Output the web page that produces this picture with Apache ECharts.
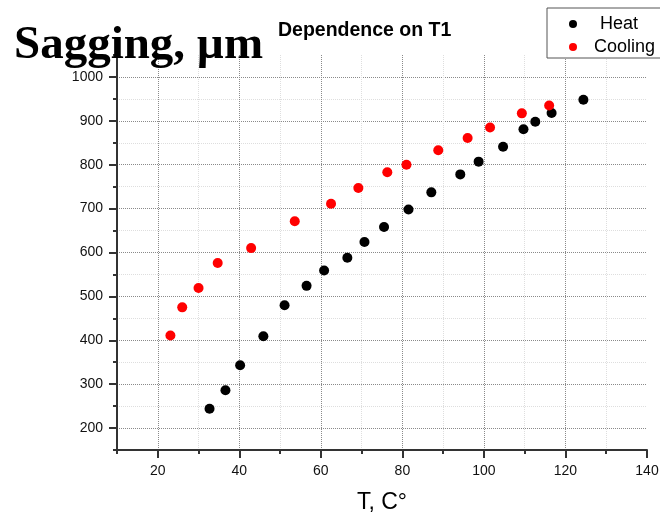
<!DOCTYPE html>
<html>
<head>
<meta charset="utf-8">
<script src="https://cdn.jsdelivr.net/npm/echarts@6/dist/echarts.min.js"></script>
<style>
  html, body { margin: 0; padding: 0; background: #fff; }
  #chart { width: 660px; height: 515px; }
</style>
</head>
<body>
<div id="chart"></div>
<script>
// T, C° / sagging, µm
const heatT = [32.7, 36.6, 40.2, 45.9, 51.1, 56.5, 60.8, 66.5, 70.7, 75.5, 81.5, 87.1, 94.2, 98.7, 104.7, 109.7, 112.6, 116.6, 124.4]
const heatSag = [244, 286, 343, 409, 480, 524, 559, 588, 624, 658, 698, 737, 778, 807, 841, 881, 898, 918, 948]
const coolT = [23.1, 26.0, 30.0, 34.7, 42.9, 53.6, 62.5, 69.2, 76.3, 81.0, 88.8, 96.0, 101.5, 109.3, 116.0]
const coolSag = [411, 475, 519, 576, 610, 671, 711, 747, 783, 800, 833, 861, 885, 917, 935]
const xTicks = [20, 40, 60, 80, 100, 120, 140]
const yTicks = [200, 300, 400, 500, 600, 700, 800, 900, 1000]

const chart = echarts.init(document.getElementById('chart'))

const zip = (xs, ys) => xs.map((x, i) => [x, ys[i]])

const gridDark = '#8a8a8a'
const gridLight = '#dedede'
const axisColor = '#333'
const labelStyle = { color: '#111', fontSize: 14, fontFamily: 'Liberation Sans' }

// alternate light / dark dotted grid lines, none on the far edge
const splitColors = (count) =>
  Array.from({ length: count }, (_, i) => (i === count - 1 ? 'transparent' : i % 2 ? gridDark : gridLight))

chart.setOption({
  animation: false,
  backgroundColor: '#fff',
  graphic: [
    {
      type: 'text', left: 14, top: 22, z: 100,
      style: { text: 'Sagging, µm', font: 'bold 47px "Liberation Serif"', fill: '#000' },
    },
    {
      type: 'text', left: 278, top: 21, z: 100,
      style: { text: 'Dependence on T1', font: 'bold 19.5px "Liberation Sans"', fill: '#000' },
    },
  ],
  legend: {
    orient: 'vertical',
    left: 547,
    top: 8,
    padding: [7, 20, 2, 22],
    itemWidth: 32,
    itemHeight: 8,
    itemGap: 5,
    icon: 'circle',
    backgroundColor: '#fff',
    borderColor: '#555',
    borderWidth: 1,
    textStyle: { fontSize: 18, lineHeight: 18, color: '#000', fontFamily: 'Liberation Sans' },
    data: [{ name: 'Heat', textStyle: { padding: [0, 0, 0, 6] } }, 'Cooling'],
  },
  grid: { left: 117, right: 13, top: 55, bottom: 65, outerBoundsMode: 'none' },
  xAxis: [
    {
      type: 'value', min: 10, max: 140, interval: 10, position: 'bottom',
      axisLine: { show: true, onZero: false, lineStyle: { color: axisColor, width: 2 } },
      axisTick: { show: true, length: 4, lineStyle: { color: axisColor, width: 2 } },
      axisLabel: { show: false },
      splitLine: { show: true, lineStyle: { color: splitColors(14), type: 'dotted', width: 1 } },
    },
    {
      type: 'value', min: 10, max: 140, interval: 10, position: 'bottom',
      name: 'T, C°', nameLocation: 'middle', nameGap: 41,
      nameTextStyle: { fontSize: 23, color: '#000', fontFamily: 'Liberation Sans' },
      axisLine: { show: false, onZero: false },
      axisTick: { show: true, length: 8, customValues: xTicks, lineStyle: { color: axisColor, width: 2 } },
      axisLabel: { ...labelStyle, margin: 14, customValues: xTicks, formatter: (v) => (v % 20 === 0 ? String(v) : '') },
      splitLine: { show: false },
    },
  ],
  yAxis: [
    {
      type: 'value', min: 150, max: 1050, interval: 50, position: 'left',
      axisLine: { show: true, onZero: false, lineStyle: { color: axisColor, width: 2 } },
      axisTick: { show: true, length: 4, lineStyle: { color: axisColor, width: 2 } },
      axisLabel: { show: false },
      splitLine: { show: true, lineStyle: { color: splitColors(19), type: 'dotted', width: 1 } },
    },
    {
      type: 'value', min: 150, max: 1050, interval: 50, position: 'left',
      axisLine: { show: false, onZero: false },
      axisTick: { show: true, length: 8, customValues: yTicks, lineStyle: { color: axisColor, width: 2 } },
      axisLabel: { ...labelStyle, margin: 14, customValues: yTicks, formatter: (v) => (v % 100 === 0 && v <= 1000 ? String(v) : '') },
      splitLine: { show: false },
    },
  ],
  series: [
    {
      name: 'Heat', type: 'scatter', data: zip(heatT, heatSag),
      symbolSize: 10, itemStyle: { color: '#000', opacity: 1 },
    },
    {
      name: 'Cooling', type: 'scatter', data: zip(coolT, coolSag),
      symbolSize: 10, itemStyle: { color: '#ff0000', opacity: 1 },
    },
  ],
})
</script>
</body>
</html>
